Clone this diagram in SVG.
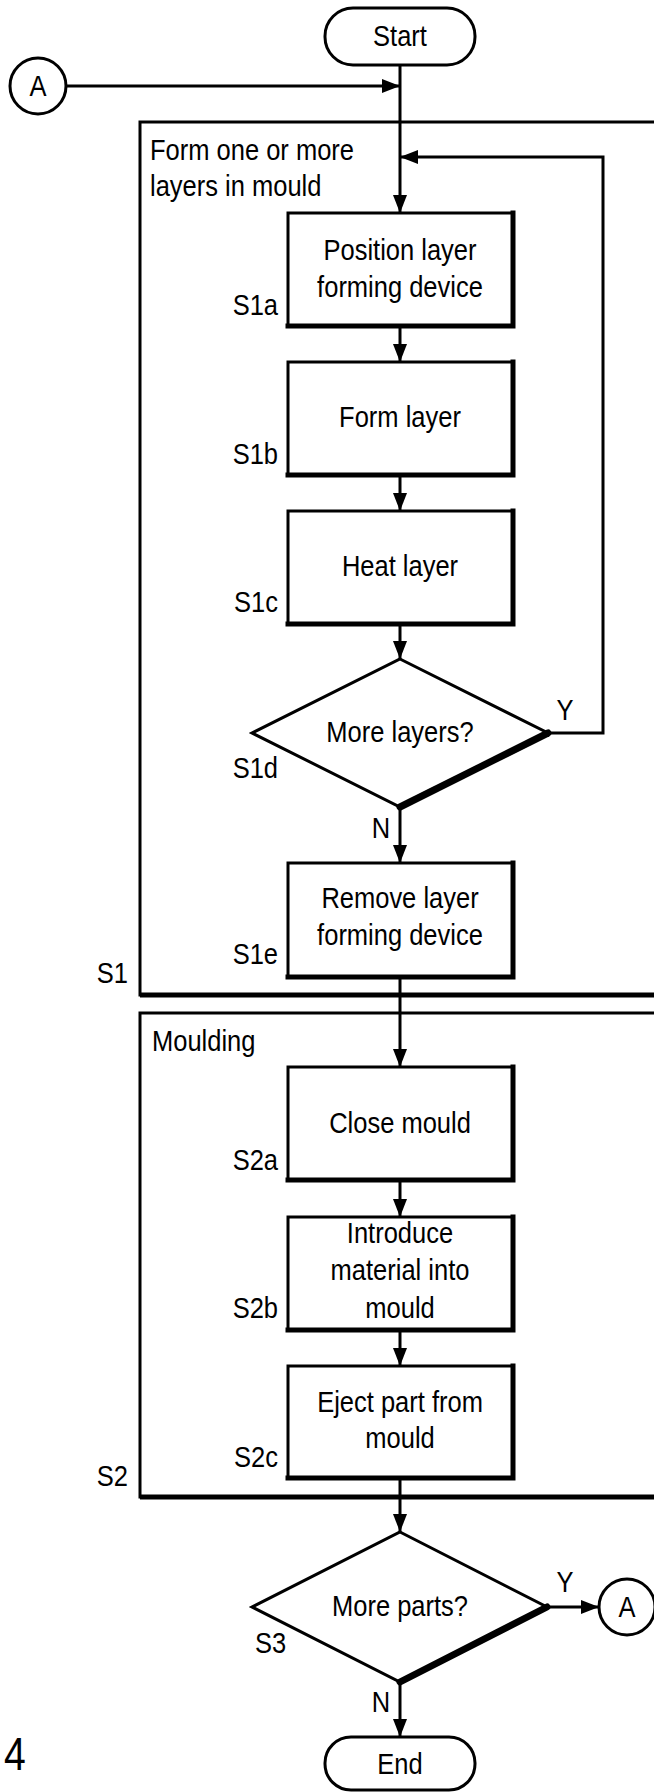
<svg xmlns="http://www.w3.org/2000/svg" width="654" height="1792" viewBox="0 0 654 1792">
<style>
.t{font-family:"Liberation Sans",Arial,sans-serif;font-size:30px;fill:#000}
.m{text-anchor:middle}
.e{text-anchor:end}
.box{fill:#fff;stroke:#000;stroke-width:3}
.sh{fill:none;stroke:#000;stroke-width:5;stroke-linecap:square}
.dsh{fill:none;stroke:#000;stroke-width:7;stroke-linecap:round}
.grp{fill:none;stroke:#000;stroke-width:3}
.grpb{fill:none;stroke:#000;stroke-width:5}
.c{fill:none;stroke:#000;stroke-width:3}
</style>
<defs>
<marker id="ah" viewBox="0 0 18 14" refX="18" refY="7" markerWidth="18" markerHeight="14" markerUnits="userSpaceOnUse" orient="auto">
<path d="M0,0 L18,7 L0,14 z" fill="#000"/>
</marker>
</defs>

<g id="group-S1">
<rect class="grp" x="140" y="122" width="540" height="873"/>
<path class="grpb" d="M140,995 H680"/>
<text class="t" transform="translate(150,160) scale(.85,1)">Form one or more</text>
<text class="t" transform="translate(150,196) scale(.85,1)">layers in mould</text>
<text class="t e" transform="translate(128,983) scale(.85,1)">S1</text>
</g>

<g id="group-S2">
<rect class="grp" x="140" y="1013" width="540" height="484"/>
<path class="grpb" d="M140,1497 H680"/>
<text class="t" transform="translate(152,1051) scale(.85,1)">Moulding</text>
<text class="t e" transform="translate(128,1486) scale(.85,1)">S2</text>
</g>

<g id="connectors">
<path class="c" d="M400,65 V213" marker-end="url(#ah)"/>
<path class="c" d="M66,86 H400" marker-end="url(#ah)"/>
<path class="c" d="M548,733 H603 V157 H400" marker-end="url(#ah)"/>
<path class="c" d="M400,326 V362" marker-end="url(#ah)"/>
<path class="c" d="M400,475 V511" marker-end="url(#ah)"/>
<path class="c" d="M400,624 V659" marker-end="url(#ah)"/>
<path class="c" d="M400,807 V863" marker-end="url(#ah)"/>
<path class="c" d="M400,977 V1067" marker-end="url(#ah)"/>
<path class="c" d="M400,1180 V1217" marker-end="url(#ah)"/>
<path class="c" d="M400,1330 V1366" marker-end="url(#ah)"/>
<path class="c" d="M400,1478 V1532" marker-end="url(#ah)"/>
<path class="c" d="M547,1607 H599" marker-end="url(#ah)"/>
<path class="c" d="M400,1682 V1737" marker-end="url(#ah)"/>
<text class="t m" transform="translate(565,720) scale(.85,1)">Y</text>
<text class="t m" transform="translate(381,838) scale(.85,1)">N</text>
<text class="t m" transform="translate(565,1592) scale(.85,1)">Y</text>
<text class="t m" transform="translate(381,1712) scale(.85,1)">N</text>
</g>

<g id="start">
<rect class="box" x="325" y="8" width="150" height="57" rx="28"/>
<text class="t m" transform="translate(400,46) scale(.85,1)">Start</text>
</g>

<g id="connector-A-in">
<circle class="box" cx="38" cy="86" r="28"/>
<text class="t m" transform="translate(38,96) scale(.85,1)">A</text>
</g>

<g id="S1a">
<rect class="box" x="288" y="213" width="225" height="113"/>
<path class="sh" d="M513,213 V326 H288"/>
<text class="t m" transform="translate(400,260) scale(.85,1)">Position layer</text>
<text class="t m" transform="translate(400,297) scale(.85,1)">forming device</text>
<text class="t e" transform="translate(278,315) scale(.85,1)">S1a</text>
</g>

<g id="S1b">
<rect class="box" x="288" y="362" width="225" height="113"/>
<path class="sh" d="M513,362 V475 H288"/>
<text class="t m" transform="translate(400,427) scale(.85,1)">Form layer</text>
<text class="t e" transform="translate(278,464) scale(.85,1)">S1b</text>
</g>

<g id="S1c">
<rect class="box" x="288" y="511" width="225" height="113"/>
<path class="sh" d="M513,511 V624 H288"/>
<text class="t m" transform="translate(400,576) scale(.85,1)">Heat layer</text>
<text class="t e" transform="translate(278,612) scale(.85,1)">S1c</text>
</g>

<g id="S1d">
<polygon class="box" points="400,659 548,733 400,807 252,733"/>
<path class="dsh" d="M548,733 L400,807"/>
<text class="t m" transform="translate(400,742) scale(.85,1)">More layers?</text>
<text class="t e" transform="translate(278,778) scale(.85,1)">S1d</text>
</g>

<g id="S1e">
<rect class="box" x="288" y="863" width="225" height="114"/>
<path class="sh" d="M513,863 V977 H288"/>
<text class="t m" transform="translate(400,908) scale(.85,1)">Remove layer</text>
<text class="t m" transform="translate(400,945) scale(.85,1)">forming device</text>
<text class="t e" transform="translate(278,964) scale(.85,1)">S1e</text>
</g>

<g id="S2a">
<rect class="box" x="288" y="1067" width="225" height="113"/>
<path class="sh" d="M513,1067 V1180 H288"/>
<text class="t m" transform="translate(400,1133) scale(.85,1)">Close mould</text>
<text class="t e" transform="translate(278,1170) scale(.85,1)">S2a</text>
</g>

<g id="S2b">
<rect class="box" x="288" y="1217" width="225" height="113"/>
<path class="sh" d="M513,1217 V1330 H288"/>
<text class="t m" transform="translate(400,1243) scale(.85,1)">Introduce</text>
<text class="t m" transform="translate(400,1280) scale(.85,1)">material into</text>
<text class="t m" transform="translate(400,1318) scale(.85,1)">mould</text>
<text class="t e" transform="translate(278,1318) scale(.85,1)">S2b</text>
</g>

<g id="S2c">
<rect class="box" x="288" y="1366" width="225" height="112"/>
<path class="sh" d="M513,1366 V1478 H288"/>
<text class="t m" transform="translate(400,1412) scale(.85,1)">Eject part from</text>
<text class="t m" transform="translate(400,1448) scale(.85,1)">mould</text>
<text class="t e" transform="translate(278,1467) scale(.85,1)">S2c</text>
</g>

<g id="S3">
<polygon class="box" points="400,1532 547,1607 400,1682 252,1607"/>
<path class="dsh" d="M547,1607 L400,1682"/>
<text class="t m" transform="translate(400,1616) scale(.85,1)">More parts?</text>
<text class="t" transform="translate(255,1653) scale(.85,1)">S3</text>
</g>

<g id="connector-A-out">
<circle class="box" cx="627" cy="1607" r="28"/>
<text class="t m" transform="translate(627,1617) scale(.85,1)">A</text>
</g>

<g id="end">
<rect class="box" x="325" y="1737" width="150" height="53" rx="26"/>
<text class="t m" transform="translate(400,1774) scale(.85,1)">End</text>
</g>

<g id="fig-label">
<text class="t" style="font-size:46px" transform="translate(4,1770) scale(.85,1)">4</text>
</g>
</svg>
